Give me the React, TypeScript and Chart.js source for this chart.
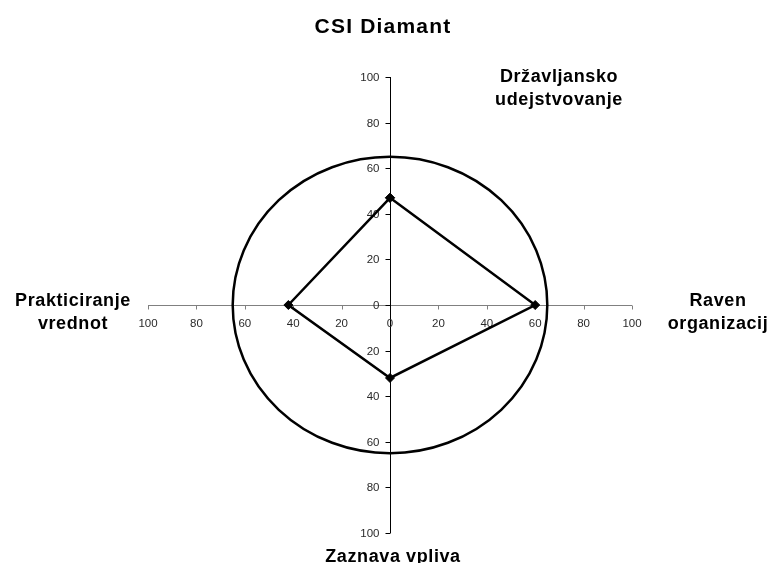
import React, { useEffect, useRef } from "react";
import { Chart, registerables } from "chart.js";

Chart.register(...registerables);

// ---- data ----
const chartTitle = "CSI Diamant";
// axis names: top, right, bottom, left
const axisNames: string[][] = [
  ["Državljansko", "udejstvovanje"],
  ["Raven", "organizacij"],
  ["Zaznava vpliva"],
  ["Prakticiranje", "vrednot"],
];
// diamond values: top, right, bottom, left
const diamondValues = [47, 60, 32, 42];
const circleRadius = 65;
const tickValues = [-100, -80, -60, -40, -20, 0, 20, 40, 60, 80, 100];
const tickLabels = tickValues.map((v) => String(Math.abs(v)));

const diamondPoints = [
  { x: 0, y: diamondValues[0] },
  { x: diamondValues[1], y: 0 },
  { x: 0, y: -diamondValues[2] },
  { x: -diamondValues[3], y: 0 },
  { x: 0, y: diamondValues[0] },
];

const FONT = '"Liberation Sans", Arial, sans-serif';

const diamondPlugin = {
  id: "diamondAxes",
  beforeDatasetsDraw(chart: any) {
    const ctx = chart.ctx as CanvasRenderingContext2D;
    const xs = chart.scales.x;
    const ys = chart.scales.y;
    const x0 = Math.round(xs.getPixelForValue(0)) + 0.5;
    const y0 = Math.round(ys.getPixelForValue(0)) + 0.5;
    ctx.save();
    // x axis (gray)
    ctx.strokeStyle = "#808080";
    ctx.lineWidth = 1;
    ctx.beginPath();
    ctx.moveTo(xs.getPixelForValue(-100), y0);
    ctx.lineTo(xs.getPixelForValue(100), y0);
    tickValues.forEach((v) => {
      const px = Math.round(xs.getPixelForValue(v)) + 0.5;
      ctx.moveTo(px, y0);
      ctx.lineTo(px, y0 + 4);
    });
    ctx.stroke();
    // y axis (black)
    ctx.strokeStyle = "#000";
    ctx.beginPath();
    ctx.moveTo(x0, ys.getPixelForValue(100));
    ctx.lineTo(x0, ys.getPixelForValue(-100));
    tickValues.forEach((v) => {
      const py = Math.round(ys.getPixelForValue(v)) + 0.5;
      ctx.moveTo(x0, py);
      ctx.lineTo(x0 - 5, py);
    });
    ctx.stroke();
    // tick labels
    ctx.fillStyle = "#2a2a2a";
    ctx.font = `11.5px ${FONT}`;
    ctx.textBaseline = "alphabetic";
    ctx.textAlign = "center";
    tickValues.forEach((v, i) => {
      ctx.fillText(tickLabels[i], xs.getPixelForValue(v), y0 + 21);
    });
    ctx.textAlign = "right";
    tickValues.forEach((v, i) => {
      ctx.fillText(tickLabels[i], x0 - 11, ys.getPixelForValue(v) + 4);
    });
    // circle
    const rx = xs.getPixelForValue(circleRadius) - xs.getPixelForValue(0);
    const ry = ys.getPixelForValue(0) - ys.getPixelForValue(circleRadius);
    ctx.strokeStyle = "#000";
    ctx.lineWidth = 2.5;
    ctx.beginPath();
    ctx.ellipse(xs.getPixelForValue(0), ys.getPixelForValue(0), rx, ry, 0, 0, Math.PI * 2);
    ctx.stroke();
    ctx.restore();
  },
  afterDraw(chart: any) {
    const ctx = chart.ctx as CanvasRenderingContext2D;
    ctx.save();
    ctx.fillStyle = "#000";
    ctx.textAlign = "center";
    ctx.textBaseline = "alphabetic";
    (ctx as any).letterSpacing = "1.2px";
    ctx.font = `bold 21px ${FONT}`;
    ctx.fillText(chartTitle, 383, 33);
    (ctx as any).letterSpacing = "0.6px";
    ctx.font = `bold 18px ${FONT}`;
    const spots = [
      { cx: 559, y: 82 },
      { cx: 718, y: 306 },
      { cx: 393, y: 562 },
      { cx: 73, y: 306 },
    ];
    axisNames.forEach((lines, i) => {
      lines.forEach((line, j) => {
        ctx.fillText(line, spots[i].cx, spots[i].y + j * 23);
      });
    });
    ctx.restore();
  },
};

export default function App() {
  const ref = useRef<HTMLCanvasElement | null>(null);
  useEffect(() => {
    if (!ref.current) return;
    const chart = new Chart(ref.current, {
      type: "scatter",
      data: {
        datasets: [
          {
            data: diamondPoints,
            showLine: true,
            borderColor: "#000",
            borderWidth: 2.5,
            pointStyle: "rectRot",
            pointRadius: 4.5,
            pointBackgroundColor: "#000",
            pointBorderColor: "#000",
            pointBorderWidth: 1,
            fill: false,
            tension: 0,
          },
        ],
      },
      options: {
        responsive: false,
        animation: false,
        layout: { padding: { left: 148, right: 140, top: 77, bottom: 30 } },
        scales: {
          x: { type: "linear", min: -100, max: 100, display: false },
          y: { type: "linear", min: -100, max: 100, display: false },
        },
        plugins: {
          legend: { display: false },
          tooltip: { enabled: false },
          title: { display: false },
        },
      },
      plugins: [diamondPlugin],
    } as any);
    return () => chart.destroy();
  }, []);
  return (
    <div style={{ position: "absolute", left: 0, top: 0, width: 772, height: 563, background: "#fff" }}>
      <canvas ref={ref} width={772} height={563} style={{ display: "block" }} />
    </div>
  );
}
